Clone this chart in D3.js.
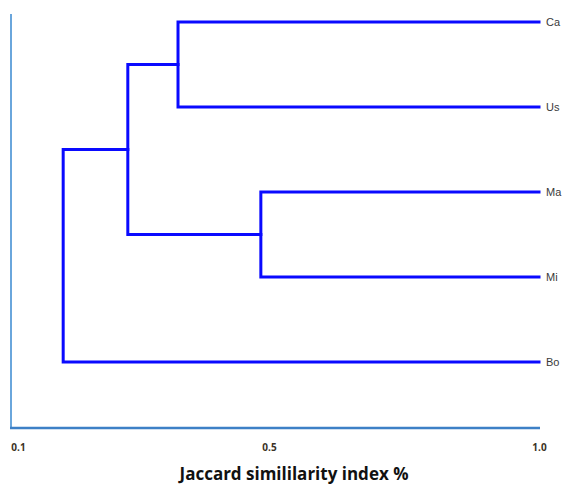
<!DOCTYPE html>
<html>
<head>
<meta charset="utf-8">
<script src="https://cdn.jsdelivr.net/npm/d3@7"></script>
<style>
  html, body { margin: 0; padding: 0; background: #ffffff; overflow: hidden; }
  svg { display: block; }
</style>
</head>
<body>
<svg id="chart" width="562" height="486"></svg>
<script>
// Leaves of the dendrogram, top to bottom
const leafNames = ["Ca", "Us", "Ma", "Mi", "Bo"];

// Agglomeration steps: the two joined clusters and the similarity at which they join
const mergeLeft = ["Ca", "Ma", "Ca|Us", "Ca|Us|Ma|Mi"];
const mergeRight = ["Us", "Mi", "Ma|Mi", "Bo"];
const mergeSimilarity = [0.355, 0.487, 0.275, 0.172];

// Axis tick labels
const tickValues = [0.1, 0.5, 1.0];
const tickLabels = ["0.1", "0.5", "1.0"];

const axisTitle = "Jaccard simililarity index %";

const svg = d3.select("#chart");

// Similarity axis (piecewise, following the printed tick spacing)
const x = d3.scaleLinear()
  .domain([0.1, 0.5, 1.0])
  .range([18, 269, 539]);

const y = d3.scalePoint()
  .domain(leafNames)
  .range([22, 362]);

// Node positions: leaves sit at similarity 1.0
const nodes = new Map();
leafNames.forEach(n => nodes.set(n, { sim: 1.0, y: y(n) }));
mergeLeft.forEach((a, i) => {
  const b = mergeRight[i];
  const na = nodes.get(a), nb = nodes.get(b);
  nodes.set(a + "|" + b, { sim: mergeSimilarity[i], y: (na.y + nb.y) / 2 });
});

// Axis frame
const axisBottomY = 428;
svg.append("line")
  .attr("x1", 11).attr("x2", 11)
  .attr("y1", 14).attr("y2", axisBottomY)
  .attr("stroke", "#6aa6dc").attr("stroke-width", 2);
svg.append("line")
  .attr("x1", 10).attr("x2", x(1.0) + 1)
  .attr("y1", axisBottomY).attr("y2", axisBottomY)
  .attr("stroke", "#3d80c6").attr("stroke-width", 2.5);

// Tick labels
const axis = d3.axisBottom(x)
  .tickValues(tickValues)
  .tickFormat((d, i) => tickLabels[i])
  .tickSize(0);
const gAxis = svg.append("g")
  .attr("transform", `translate(0, 441)`)
  .call(axis);
gAxis.select(".domain").remove();
gAxis.selectAll("text")
  .attr("font-family", "'Open Sans', sans-serif")
  .attr("font-size", 10)
  .attr("font-weight", "bold")
  .attr("fill", "#3b3226");

// Dendrogram links as elbows
const links = svg.append("g")
  .attr("fill", "none")
  .attr("stroke", "#0a0aff")
  .attr("stroke-width", 3)
  .attr("stroke-linejoin", "miter")
  .attr("stroke-linecap", "square");

mergeLeft.forEach((a, i) => {
  const b = mergeRight[i];
  const na = nodes.get(a), nb = nodes.get(b);
  const xm = x(mergeSimilarity[i]);
  links.append("path")
    .attr("d", `M${x(na.sim)},${na.y}H${xm}V${nb.y}H${x(nb.sim)}`);
});

// Leaf labels
svg.append("g")
  .selectAll("text")
  .data(leafNames)
  .join("text")
  .attr("x", x(1.0) + 7)
  .attr("y", d => y(d))
  .attr("dy", "0.36em")
  .attr("font-family", "'Liberation Sans', Arial, sans-serif")
  .attr("font-size", 11)
  .attr("fill", "#3a3a3a")
  .text(d => d);

// Axis title
svg.append("text")
  .attr("x", 294)
  .attr("y", 480)
  .attr("text-anchor", "middle")
  .attr("font-family", "'Open Sans', sans-serif")
  .attr("font-size", 17)
  .attr("font-weight", "bold")
  .attr("fill", "#111")
  .text(axisTitle);
</script>
</body>
</html>
